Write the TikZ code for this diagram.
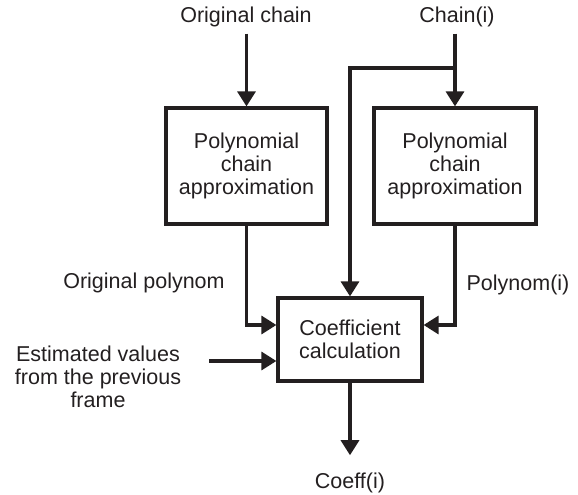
\documentclass[tikz,border=0pt]{standalone}
\usepackage{fontspec}
\setmainfont{Liberation Sans}
\usetikzlibrary{arrows.meta}
\definecolor{ink}{RGB}{35,31,32}
\begin{document}
\begin{tikzpicture}[x=1pt,y=-1pt,
  every node/.style={font=\fontsize{21.5}{23}\selectfont, inner sep=0pt, text=ink},
  blk/.style={draw=ink, line width=3.2pt, align=center},
  arr/.style={draw=ink, line width=3.2pt, -{Triangle[width=18pt,length=15pt]}}]
\useasboundingbox (0,0) rectangle (578,495);
% boxes
\node[blk, minimum width=161pt, minimum height=116pt] (p1) at (246.5,166) {Polynomial\\chain\\approximation};
\node[blk, minimum width=162pt, minimum height=116pt] (p2) at (455,166) {Polynomial\\chain\\approximation};
\node[blk, minimum width=144pt, minimum height=83pt] (cc) at (350,339.5) {Coefficient\\calculation};
% labels
\node[anchor=base] (oc) at (246,23) {Original chain};
\node[anchor=base] (ch) at (457,23) {Chain(i)};
\node[anchor=base] (op) at (144,288) {Original polynom};
\node[anchor=base] (pi) at (518,290) {Polynom(i)};
\node[align=center] (est) at (98,377) {Estimated values\\from the previous\\frame};
\node[anchor=base] (co) at (350,488) {Coeff(i)};
% connectors
\coordinate (br) at (455,68);
\coordinate (es) at (209,361);
\draw[arr, shorten <=6pt] (p1.north |- oc.south) -- (p1.north);
\draw[arr, shorten <=6pt] (p2.north |- ch.south) -- (p2.north);
\draw[arr] (br) -| (cc.north);
\draw[arr] (p1.south) |- ([yshift=14.5pt]cc.west);
\draw[arr] (p2.south) |- ([yshift=14.5pt]cc.east);
\draw[arr] (es) -- (es -| cc.west);
\draw[arr, shorten >=17pt] (cc.south) -- (co.north);
\end{tikzpicture}
\end{document}
